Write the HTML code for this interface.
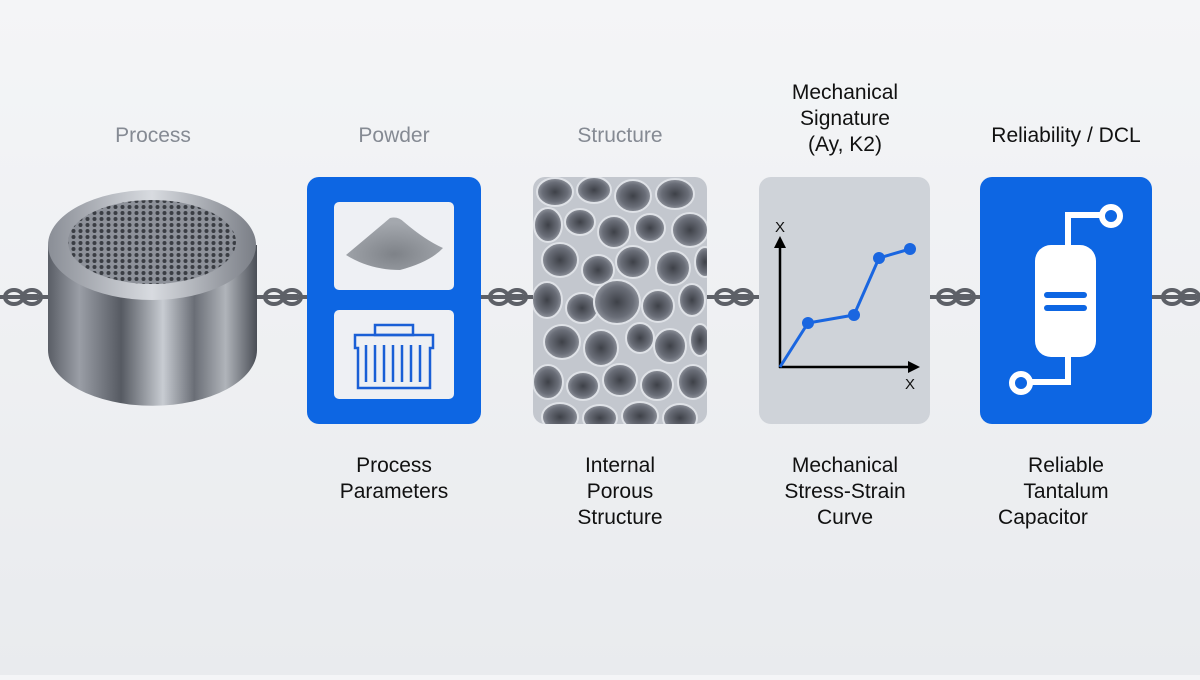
<!DOCTYPE html>
<html><head><meta charset="utf-8"><style>
html,body{margin:0;padding:0;}
body{width:1200px;height:675px;overflow:hidden;background:linear-gradient(#f4f5f7,#e9ebee);font-family:"Liberation Sans",sans-serif;}
</style></head><body>
<svg width="1200" height="675" viewBox="0 0 1200 675" xmlns="http://www.w3.org/2000/svg">
<defs>
<linearGradient id="cyl" x1="0" x2="1" y1="0" y2="0">
<stop offset="0" stop-color="#5a5e66"/><stop offset="0.15" stop-color="#9a9ea6"/><stop offset="0.35" stop-color="#565a62"/><stop offset="0.55" stop-color="#c8ccd2"/><stop offset="0.7" stop-color="#6a6e76"/><stop offset="0.85" stop-color="#b0b4ba"/><stop offset="1" stop-color="#4a4e56"/>
</linearGradient>
<linearGradient id="rim" x1="0" x2="1"><stop offset="0" stop-color="#8a8e96"/><stop offset="0.5" stop-color="#d8dbe0"/><stop offset="1" stop-color="#7a7e86"/></linearGradient>
<pattern id="holes" width="7" height="6" patternUnits="userSpaceOnUse"><rect width="7" height="6" fill="#8d9199"/><circle cx="3.5" cy="3" r="2" fill="#3a3d43"/></pattern>
<radialGradient id="pore" cx="0.5" cy="0.5" r="0.5"><stop offset="0" stop-color="#3e4148"/><stop offset="0.7" stop-color="#6a6e78"/><stop offset="1" stop-color="#8f939c"/></radialGradient>
<clipPath id="sc"><rect x="533" y="177" width="174" height="247" rx="12"/></clipPath>
<radialGradient id="pile" cx="0.5" cy="0.7" r="0.6"><stop offset="0" stop-color="#7e8288"/><stop offset="1" stop-color="#a4a8ae"/></radialGradient>
<g id="link"><ellipse cx="-8" cy="0" rx="9" ry="7" fill="none" stroke="#5d6067" stroke-width="4"/><line x1="2" y1="0" x2="16" y2="0" stroke="#5d6067" stroke-width="6"/><ellipse cx="10" cy="0" rx="9" ry="7" fill="none" stroke="#5d6067" stroke-width="4"/></g>
</defs>

<!-- chains -->
<g stroke="#5d6067" stroke-width="4">
<line x1="0" y1="297" x2="60" y2="297"/><line x1="250" y1="297" x2="310" y2="297"/>
<line x1="478" y1="297" x2="536" y2="297"/><line x1="704" y1="297" x2="762" y2="297"/>
<line x1="927" y1="297" x2="983" y2="297"/><line x1="1150" y1="297" x2="1200" y2="297"/>
</g>
<use href="#link" x="22" y="297"/><use href="#link" x="282" y="297"/><use href="#link" x="507" y="297"/>
<use href="#link" x="733" y="297"/><use href="#link" x="955" y="297"/><use href="#link" x="1180" y="297"/>

<!-- cylinder -->
<path d="M48 245 L48 350 A103 55 0 0 0 257 350 L257 245 Z" fill="url(#cyl)"/>
<ellipse cx="152" cy="245" rx="104" ry="55" fill="url(#rim)"/>
<ellipse cx="152" cy="242" rx="84" ry="42" fill="url(#holes)"/>

<!-- powder box -->
<rect x="307" y="177" width="174" height="247" rx="12" fill="#0d66e3"/>
<rect x="334" y="202" width="120" height="88" rx="5" fill="#eef0f4"/>
<rect x="334" y="310" width="120" height="89" rx="5" fill="#eef0f4"/>
<path d="M346 255 Q370 235 390 218 Q398 216 404 222 Q425 240 443 248 Q430 262 400 270 Q370 270 346 255Z" fill="url(#pile)"/>
<g fill="none" stroke="#1a5fd6" stroke-width="2.5">
<rect x="375" y="325" width="38" height="10"/>
<path d="M355 335 H433 V348 H430 V388 H358 V348 H355 Z"/>
<path d="M366 345 V382 M375 345 V382 M384 345 V382 M393 345 V382 M402 345 V382 M411 345 V382 M420 345 V382"/>
</g>

<!-- structure -->
<g clip-path="url(#sc)">
<rect x="533" y="177" width="174" height="247" fill="#c3c7ce"/>
<g fill="url(#pore)" stroke="#dfe2e7" stroke-width="2">
<ellipse cx="555" cy="192" rx="18" ry="14"/><ellipse cx="594" cy="190" rx="17" ry="13"/><ellipse cx="633" cy="196" rx="18" ry="16"/><ellipse cx="675" cy="194" rx="19" ry="15"/>
<ellipse cx="548" cy="225" rx="14" ry="17"/><ellipse cx="580" cy="222" rx="15" ry="13"/><ellipse cx="614" cy="232" rx="16" ry="16"/><ellipse cx="650" cy="228" rx="15" ry="14"/><ellipse cx="690" cy="230" rx="18" ry="17"/>
<ellipse cx="560" cy="260" rx="18" ry="17"/><ellipse cx="598" cy="270" rx="16" ry="15"/><ellipse cx="633" cy="262" rx="17" ry="16"/><ellipse cx="673" cy="268" rx="17" ry="17"/><ellipse cx="705" cy="262" rx="10" ry="15"/>
<ellipse cx="547" cy="300" rx="15" ry="18"/><ellipse cx="582" cy="308" rx="16" ry="15"/><ellipse cx="617" cy="302" rx="23" ry="22"/><ellipse cx="658" cy="306" rx="16" ry="16"/><ellipse cx="692" cy="300" rx="13" ry="16"/>
<ellipse cx="562" cy="342" rx="18" ry="17"/><ellipse cx="601" cy="348" rx="17" ry="18"/><ellipse cx="640" cy="338" rx="14" ry="15"/><ellipse cx="670" cy="346" rx="16" ry="17"/><ellipse cx="700" cy="340" rx="10" ry="16"/>
<ellipse cx="548" cy="382" rx="15" ry="17"/><ellipse cx="583" cy="386" rx="16" ry="14"/><ellipse cx="620" cy="380" rx="17" ry="16"/><ellipse cx="657" cy="385" rx="16" ry="15"/><ellipse cx="693" cy="382" rx="15" ry="17"/>
<ellipse cx="560" cy="417" rx="18" ry="14"/><ellipse cx="600" cy="418" rx="17" ry="13"/><ellipse cx="640" cy="416" rx="18" ry="14"/><ellipse cx="680" cy="418" rx="17" ry="14"/>
</g></g>

<!-- graph card -->
<rect x="759" y="177" width="171" height="247" rx="12" fill="#cfd3d9"/>
<g stroke="#000" stroke-width="2.5" fill="none"><line x1="780" y1="368" x2="780" y2="245"/><line x1="779" y1="367" x2="910" y2="367"/></g>
<path d="M774 248 L780 236 L786 248Z M908 361 L920 367 L908 373Z" fill="#000"/>
<text x="780" y="232" font-size="15" text-anchor="middle" fill="#111">X</text>
<text x="910" y="389" font-size="15" text-anchor="middle" fill="#111">X</text>
<polyline points="780,367 808,323 854,315 879,258 910,249" fill="none" stroke="#1a66e0" stroke-width="3"/>
<g fill="#1a66e0"><circle cx="808" cy="323" r="6"/><circle cx="854" cy="315" r="6"/><circle cx="879" cy="258" r="6"/><circle cx="910" cy="249" r="6"/></g>

<!-- capacitor -->
<rect x="980" y="177" width="172" height="247" rx="12" fill="#0d66e3"/>
<g stroke="#fff" stroke-width="6" fill="none"><path d="M1068 250 V215 H1103"/><path d="M1068 355 V382 H1030"/>
<circle cx="1111" cy="216" r="9"/><circle cx="1021" cy="383" r="9"/></g>
<rect x="1035" y="245" width="61" height="112" rx="16" fill="#fff"/>
<g stroke="#0d66e3" stroke-width="6" stroke-linecap="round"><line x1="1047" y1="295" x2="1084" y2="295"/><line x1="1047" y1="308" x2="1084" y2="308"/></g>

<!-- labels -->
<g font-size="21" text-anchor="middle">
<text x="153" y="142" fill="#858a93">Process</text>
<text x="394" y="142" fill="#858a93">Powder</text>
<text x="620" y="142" fill="#858a93">Structure</text>
<g fill="#111">
<text x="845" y="99">Mechanical</text><text x="845" y="125">Signature</text><text x="845" y="151">(Ay, K2)</text>
<text x="1066" y="142">Reliability / DCL</text>
<text x="394" y="472">Process</text><text x="394" y="498">Parameters</text>
<text x="620" y="472">Internal</text><text x="620" y="498">Porous</text><text x="620" y="524">Structure</text>
<text x="845" y="472">Mechanical</text><text x="845" y="498">Stress-Strain</text><text x="845" y="524">Curve</text>
<text x="1066" y="472">Reliable</text><text x="1066" y="498">Tantalum</text><text x="1043" y="524">Capacitor</text>
</g></g>
</svg>
</body></html>
